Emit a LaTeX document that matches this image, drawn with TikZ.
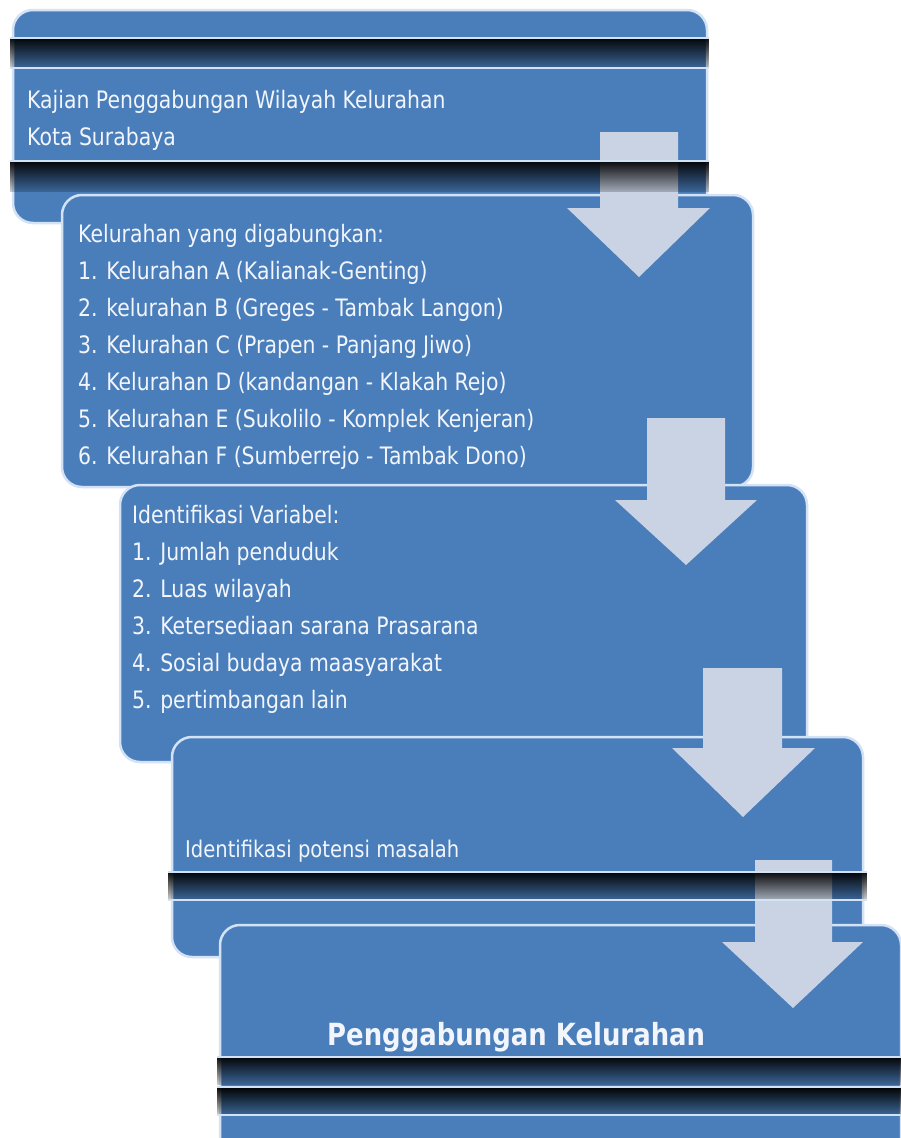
\documentclass[tikz,border=0pt]{standalone}
\usepackage{fontspec}
\setmainfont{DejaVu Sans}[FakeStretch=0.85]
\usetikzlibrary{fadings}
\definecolor{boxblue}{HTML}{4A7EBB}
\definecolor{edgec}{HTML}{D3E2F4}
\definecolor{arrowc}{HTML}{C9D3E4}
\definecolor{txtc}{HTML}{F2F5FB}
\tikzfading[name=barfade, top color=transparent!5, bottom color=transparent!82]
\tikzset{
  box/.style={fill=boxblue, draw=edgec, line width=2.5pt, rounded corners=20pt},
  bar/.style={fill=black, path fading=barfade},
  barline/.style={draw=edgec, line width=2pt},
  arr/.style={fill=arrowc},
  lbl/.style={text=txtc, font=\fontsize{24}{37}\selectfont, inner sep=0pt, align=left},
  lbls/.style={text=txtc, font=\fontsize{23}{37}\selectfont, inner sep=0pt, align=left},
  bigl/.style={text=txtc, font=\fontsize{30.5}{36}\selectfont\bfseries, inner sep=0pt}
}
\begin{document}
\begin{tikzpicture}[x=1pt,y=-1pt]
\useasboundingbox (0,0) rectangle (901,1138);
\clip (0,0) rectangle (901,1138);
\fill[white] (0,0) rectangle (901,1138);

% box 1 and box 2
\draw[box] (13,10) rectangle (707,223);
\draw[box] (62,195) rectangle (753,487);
% arrow 1
\fill[arr] (600,132) -- (678,132) -- (678,208) -- (710,208) -- (639,277) -- (567,208) -- (600,208) -- cycle;
% bars of box 1
\fill[bar] (10,38) rectangle (709,68);
\draw[barline] (10,38) -- (709,38);
\draw[barline] (10,68) -- (709,68);
\fill[bar] (10,161) rectangle (709,192);
\draw[barline] (10,161) -- (709,161);

% box 3 and arrow 2
\draw[box] (120,485) rectangle (807,762);
\fill[arr] (647,418) -- (725,418) -- (725,500) -- (757,500) -- (686,565) -- (615,500) -- (647,500) -- cycle;

% box 4 and arrow 3
\draw[box] (172,737) rectangle (863,957);
\fill[arr] (703,668) -- (782,668) -- (782,748) -- (815,748) -- (743,817) -- (672,748) -- (703,748) -- cycle;

% box 5 and arrow 4
\draw[box] (220,925) rectangle (901,1165);
\fill[arr] (755,860) -- (832,860) -- (832,942) -- (863,942) -- (793,1008) -- (722,942) -- (755,942) -- cycle;

% bar of box 4
\fill[bar] (168,872) rectangle (867,900);
\draw[barline] (168,872) -- (867,872);
\draw[barline] (168,900) -- (867,900);

% bars of box 5
\fill[bar] (217,1057) rectangle (905,1085);
\fill[bar] (217,1088) rectangle (905,1115);
\draw[barline] (217,1057) -- (905,1057);
\draw[barline] (217,1086.5) -- (905,1086.5);
\draw[barline] (217,1115) -- (905,1115);

% texts
\node[lbl, anchor=north west] (t1) at (27,90) {Kajian Penggabungan Wilayah Kelurahan\\Kota Surabaya};
\node[lbl, anchor=north west] (t2) at (78,224) {Kelurahan yang digabungkan:\\
1. Kelurahan A (Kalianak-Genting)\\
2. kelurahan B (Greges - Tambak Langon)\\
3. Kelurahan C (Prapen - Panjang Jiwo)\\
4. Kelurahan D (kandangan - Klakah Rejo)\\
5. Kelurahan E (Sukolilo - Komplek Kenjeran)\\
6. Kelurahan F (Sumberrejo - Tambak Dono)};
\node[lbl, anchor=north west] (t3) at (132,505) {Identifikasi Variabel:\\
1. Jumlah penduduk\\
2. Luas wilayah\\
3. Ketersediaan sarana Prasarana\\
4. Sosial budaya maasyarakat\\
5. pertimbangan lain};
\node[lbls, anchor=base west] (t4) at (185,857) {Identifikasi potensi masalah};
\node[bigl, anchor=base west] (t5) at (327,1045) {Penggabungan Kelurahan};
\end{tikzpicture}
\end{document}
